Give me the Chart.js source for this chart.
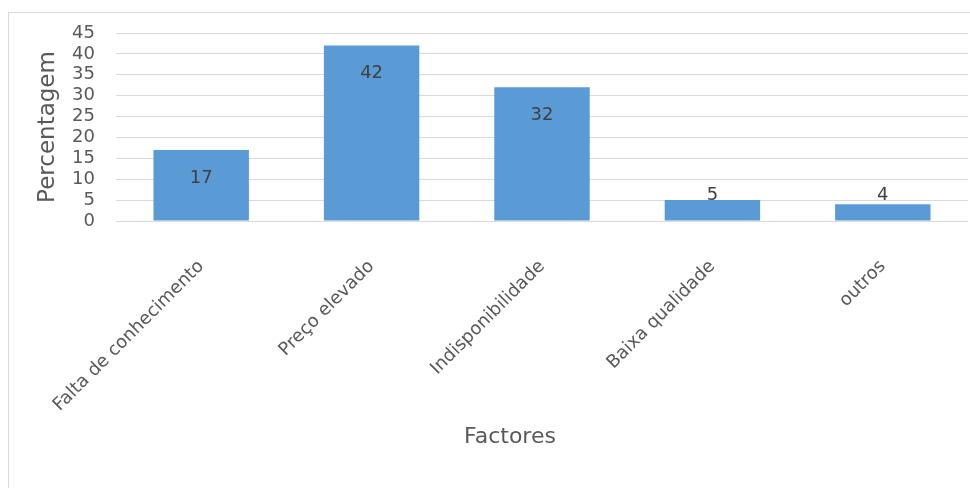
<!DOCTYPE html>
<html lang="pt">
<head>
  <meta charset="UTF-8">
  <title>Factores</title>
  <script src="https://cdn.jsdelivr.net/npm/chart.js"></script>
  <style>
    html, body { margin: 0; padding: 0; background: #fff; }
    .frame {
      position: absolute;
      left: 8px;
      top: 12px;
      width: 980px;
      height: 500px;
      border-left: 1px solid #d9d9d9;
      border-top: 1px solid #d9d9d9;
    }
    .chart-box {
      position: absolute;
      left: 0;
      top: 0;
      width: 970px;
      height: 488px;
    }
  </style>
</head>
<body>
  <div class="frame"></div>
  <div class="chart-box">
    <canvas id="grafica"></canvas>
  </div>

  <script>
    // datos
    const categorias = ['Falta de conhecimento', 'Preço elevado', 'Indisponibilidade', 'Baixa qualidade', 'outros'];
    const valores = [17, 42, 32, 5, 4];
    const tituloY = 'Percentagem';
    const tituloX = 'Factores';

    const FONT = '"DejaVu Sans", sans-serif';
    const GRIS = '#595959';

    // etiquetas de valor + título del eje X
    const etiquetas = {
      id: 'etiquetas',
      afterDatasetsDraw(chart) {
        const ctx = chart.ctx;
        const meta = chart.getDatasetMeta(0);
        const base = chart.scales.y.getPixelForValue(0);
        ctx.save();
        ctx.font = '18px ' + FONT;
        ctx.fillStyle = '#404040';
        ctx.textAlign = 'center';
        ctx.textBaseline = 'middle';
        meta.data.forEach((bar, i) => {
          const y = Math.min(bar.y + 28, base - 26);
          ctx.fillText(String(valores[i]), bar.x, y);
        });
        ctx.font = '22px ' + FONT;
        ctx.fillStyle = GRIS;
        ctx.fillText(tituloX, 510, 437);
        ctx.restore();
      }
    };

    new Chart(document.getElementById('grafica'), {
      type: 'bar',
      data: {
        labels: categorias,
        datasets: [{
          data: valores,
          backgroundColor: '#5b9bd5',
          borderWidth: 0,
          categoryPercentage: 1,
          barPercentage: 0.56
        }]
      },
      options: {
        responsive: true,
        maintainAspectRatio: false,
        animation: false,
        layout: { padding: { top: 33, right: 2, left: 0, bottom: 0 } },
        plugins: {
          legend: { display: false },
          tooltip: { enabled: false }
        },
        scales: {
          x: {
            grid: { display: false },
            border: { display: false },
            ticks: {
              color: GRIS,
              font: { family: FONT, size: 18 },
              minRotation: 45,
              maxRotation: 45,
              padding: 27,
              autoSkip: false
            },
            afterFit(scale) { scale.height = 267; }
          },
          y: {
            min: 0,
            max: 45,
            grid: { color: '#d9d9d9', drawTicks: false },
            border: { display: false },
            ticks: {
              stepSize: 5,
              autoSkip: false,
              color: GRIS,
              font: { family: FONT, size: 18 },
              padding: 21
            },
            title: {
              display: true,
              text: tituloY,
              color: GRIS,
              font: { family: FONT, size: 23 },
              padding: { top: 34, bottom: 0 }
            },
            afterFit(scale) { scale.width = 116; }
          }
        }
      },
      plugins: [etiquetas]
    });
  </script>
</body>
</html>
